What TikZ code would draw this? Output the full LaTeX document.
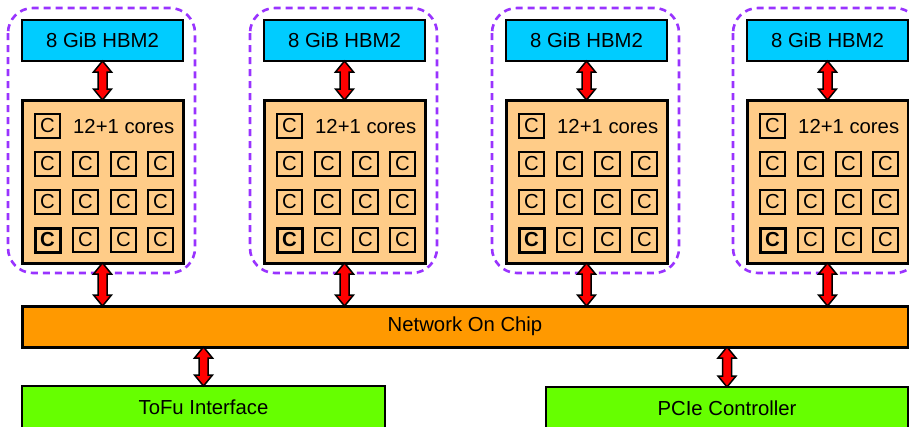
\documentclass[tikz,border=0pt]{standalone}
\usepackage{fontspec}
\setmainfont{Liberation Sans}
\usetikzlibrary{calc}
\definecolor{hbmc}{HTML}{00CCFF}
\definecolor{cmgc}{HTML}{FFCC88}
\definecolor{nocc}{HTML}{FF9900}
\definecolor{ioc}{HTML}{66FF00}
\definecolor{grp}{HTML}{9933FF}
\definecolor{arrc}{HTML}{FF0000}
\tikzset{
  txt/.style={font=\fontsize{20.3}{23}\selectfont},
  hbmbox/.style={draw=black, line width=1.8pt, fill=hbmc, minimum width=161pt, minimum height=41pt, inner sep=0pt, outer sep=0pt, anchor=north west, txt},
  cmgbox/.style={draw=black, line width=3pt, fill=cmgc, minimum width=161pt, minimum height=163pt, inner sep=0pt, outer sep=0pt, anchor=north west},
  corebox/.style={draw=black, line width=2.2pt, minimum width=25pt, minimum height=24pt, inner sep=0pt, outer sep=0pt, anchor=north west, txt},
  asstbox/.style={corebox, line width=3pt, font=\fontsize{20.3}{23}\selectfont\bfseries},
  grpbox/.style={draw=grp, line width=2.6pt, dash pattern=on 7pt off 5pt, rounded corners=25pt},
  nocbox/.style={draw=black, line width=3pt, fill=nocc, minimum width=886pt, minimum height=41pt, inner sep=0pt, outer sep=0pt, anchor=north west, txt},
  iobox/.style={draw=black, line width=1.5pt, fill=ioc, minimum height=42pt, inner sep=0pt, outer sep=0pt, anchor=north west, txt},
  arrowstyle/.style={draw=black, fill=arrc, line width=1.5pt, line join=miter},
}
\newcommand\bidir[2]{%
  \draw[arrowstyle] (#1) -- ($(#1)+(9,11)$) -- ($(#1)+(4.5,11)$) -- ($(#2)+(4.5,-11)$) -- ($(#2)+(9,-11)$) -- (#2) -- ($(#2)+(-9,-11)$) -- ($(#2)+(-4.5,-11)$) -- ($(#1)+(-4.5,11)$) -- ($(#1)+(-9,11)$) -- cycle;}
\begin{document}
\begin{tikzpicture}[x=1pt,y=-1pt]
\useasboundingbox (0,0) rectangle (909,426);
\clip (0,0) rectangle (909,426);
\fill[white] (0,0) rectangle (909,426);
% network on chip
\node[nocbox] (noc) at (22,306) {Network On Chip};
\node[iobox, minimum width=363pt] (tofu) at (22,386) {ToFu Interface};
\node[iobox, minimum width=362pt] (pcie) at (546,387) {PCIe Controller};
\foreach \i/\x in {0/22,1/264,2/506,3/747}{
  \draw[grpbox] (\x-14,8) rectangle (\x+173,273);
  \node[hbmbox] (hbm\i) at (\x,20) {8 GiB HBM2};
  \node[cmgbox] (cmg\i) at (\x,100) {};
  \node[corebox] (c\i-0) at (\x+13,114) {C};
  \node[txt, anchor=west, inner sep=0pt] (lbl\i) at (\x+51,127) {12+1 cores};
  \foreach \r/\y in {1/152,2/190,3/228}{
    \foreach \c/\dx in {1/13,2/51,3/89,4/126}{
      \ifnum\r=3 \ifnum\c=1
        \node[asstbox] (c\i-\r-\c) at (\x+\dx,\y) {C};
      \else
        \node[corebox] (c\i-\r-\c) at (\x+\dx,\y) {C};
      \fi\else
        \node[corebox] (c\i-\r-\c) at (\x+\dx,\y) {C};
      \fi
    }
  }
  \bidir{hbm\i.south}{cmg\i.north}
  \path (cmg\i.south |- noc.north) coordinate (n\i);
  \bidir{cmg\i.south}{n\i}
}
\path (tofu.north |- noc.south) coordinate (nt);
\bidir{nt}{tofu.north}
\path (pcie.north |- noc.south) coordinate (np);
\bidir{np}{pcie.north}
\end{tikzpicture}
\end{document}
